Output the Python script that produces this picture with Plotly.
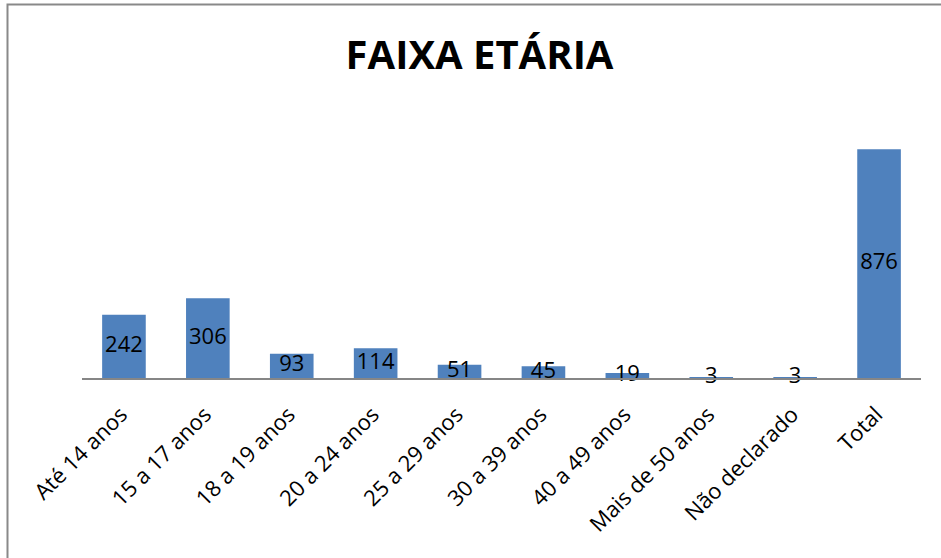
"""Faixa etária dos alunos (Plotly bar chart)"""

import plotly.graph_objects as go

FAIXAS = [
    "Até 14 anos", "15 a 17 anos", "18 a 19 anos", "20 a 24 anos", "25 a 29 anos",
    "30 a 39 anos", "40 a 49 anos", "Mais de 50 anos", "Não declarado", "Total",
]
CONTAGENS = [242, 306, 93, 114, 51, 45, 19, 3, 3, 876]
BAR_COLOR = "#4F81BD"
FONT = "Open Sans"


def create_bar_chart(labels: list[str], values: list[int], title: str = "FAIXA ETÁRIA") -> go.Figure:
    """创建年龄段柱状图。

    Args:
        labels: 类别名称
        values: 每个类别的人数
        title: 图表标题

    Returns:
        Plotly Figure 对象
    """
    fig = go.Figure()
    fig.add_trace(go.Bar(
        x=labels,
        y=values,
        marker=dict(color=BAR_COLOR, line=dict(width=0)),
        width=0.52,
        hoverinfo="x+y",
    ))
    # 数值标签放在柱子中间
    fig.add_trace(go.Scatter(
        x=labels,
        y=[v / 2 for v in values],
        mode="text",
        text=[str(v) for v in values],
        textfont=dict(family=FONT, size=22, color="black"),
        cliponaxis=False,
        hoverinfo="skip",
    ))

    fig.update_layout(
        title=dict(text=f"<b>{title}</b>", x=0.5096, xref="container", xanchor="center",
                   y=1 - 55 / 558, yref="container", yanchor="middle",
                   font=dict(family=FONT, size=40, color="black")),
        xaxis=dict(
            showline=True, linecolor="#868686", linewidth=2,
            ticks="", tickangle=-45,
            ticklabelstandoff=13, ticklabelshift=-3,
            tickfont=dict(family=FONT, size=22, color="black"),
            showgrid=False,
        ),
        yaxis=dict(visible=False, range=[0, 1000], showgrid=False),
        shapes=[dict(
            type="rect", xref="paper", yref="paper",
            x0=-0.0888, x1=1.1, y0=-1.0, y1=1.431,
            line=dict(color="#898989", width=2), fillcolor="rgba(0,0,0,0)",
            layer="below",
        )],
        plot_bgcolor="white",
        paper_bgcolor="white",
        width=941,
        height=558,
        margin=dict(t=117, b=180, l=82, r=20),
        showlegend=False,
    )
    return fig


fig = create_bar_chart(FAIXAS, CONTAGENS)
# 去掉页面默认边距
fig.write_html("out.html", config={"displayModeBar": False},
               post_script="document.body.style.margin = '0';")
